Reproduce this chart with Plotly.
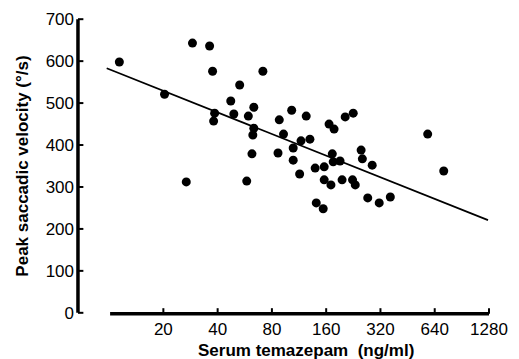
import math
import plotly.graph_objects as go

# Serum temazepam (ng/ml) and peak saccadic velocity (deg/s)
conc = [11.4, 20.3, 29.0, 36.1, 37.5, 38.5, 38.0, 47.3, 49.2, 53.0,
        59.2, 63.5, 63.5, 62.7, 62.0, 71.3, 58.0, 26.8, 87.9, 103,
        124, 92.8, 86.5, 105, 116, 130, 105, 114, 166, 177,
        204, 226, 173, 175, 191, 250, 254, 288, 139, 156,
        585, 718, 156, 170, 196, 224, 232, 272, 315, 363,
        141, 154]
velocity = [598, 521, 643, 636, 576, 476, 457, 505, 474, 543,
            469, 490, 440, 424, 379, 576, 314, 312, 460, 483,
            469, 426, 381, 393, 410, 414, 364, 331, 450, 438,
            467, 476, 379, 360, 362, 388, 367, 352, 345, 348,
            426, 338, 317, 305, 317, 317, 305, 274, 262, 276,
            262, 248]

fit_x = [9.7, 1264]
fit_y = [583, 221]

x_ticks = [20, 40, 80, 160, 320, 640, 1280]
y_ticks = [0, 100, 200, 300, 400, 500, 600, 700]

# axis frame geometry (in data units)
x_range = [6.47, 1382]          # plotted x extent (log axis)
y_range = [-10, 710]
y_axis_x = 6.72                  # where the vertical axis stands
y_tick_end = 7.2                 # inward tick length on the y axis
x_axis_start = 10.13             # detached x axis starts here
x_axis_y = -2
x_tick_top = 11

font = "Liberation Sans, Arial, Helvetica, sans-serif"

fig = go.Figure()

# axis lines and ticks drawn as line traces
fig.add_trace(go.Scatter(x=[y_axis_x, y_axis_x], y=[y_ticks[0], y_ticks[-1]],
                         mode="lines", line=dict(color="black", width=3.5),
                         showlegend=False, hoverinfo="skip"))
ytx, yty = [], []
for v in y_ticks:
    ytx += [y_axis_x, y_tick_end, None]
    yty += [v, v, None]
fig.add_trace(go.Scatter(x=ytx, y=yty, mode="lines",
                         line=dict(color="black", width=2),
                         showlegend=False, hoverinfo="skip"))
fig.add_trace(go.Scatter(x=[x_axis_start, x_ticks[-1]], y=[x_axis_y, x_axis_y],
                         mode="lines", line=dict(color="black", width=3.5),
                         showlegend=False, hoverinfo="skip"))
xtx, xty = [], []
for v in x_ticks:
    xtx += [v, v, None]
    xty += [x_axis_y, x_tick_top, None]
fig.add_trace(go.Scatter(x=xtx, y=xty, mode="lines",
                         line=dict(color="black", width=2),
                         showlegend=False, hoverinfo="skip"))

# regression line and data
fig.add_trace(go.Scatter(x=fit_x, y=fit_y, mode="lines",
                         line=dict(color="black", width=1.7),
                         showlegend=False, hoverinfo="skip"))
fig.add_trace(go.Scatter(x=conc, y=velocity, mode="markers",
                         marker=dict(color="black", size=9),
                         showlegend=False))

fig.update_layout(
    width=519, height=359,
    margin=dict(l=75, r=24, t=15, b=42),
    paper_bgcolor="white", plot_bgcolor="white",
    font=dict(family=font, color="black", size=17),
    xaxis=dict(
        type="log",
        range=[math.log10(x_range[0]), math.log10(x_range[1])],
        tickvals=x_ticks, ticktext=[str(v) for v in x_ticks],
        ticks="", showline=False, showgrid=False, zeroline=False,
        automargin=False, tickfont=dict(size=17),
    ),
    yaxis=dict(
        range=y_range, tickvals=y_ticks,
        ticks="", showline=False, showgrid=False, zeroline=False,
        automargin=False, tickfont=dict(size=17),
        title=dict(text="<b>Peak saccadic velocity (°/s)</b>", font=dict(size=17), standoff=12),
    ),
    annotations=[dict(
        text="<b>Serum temazepam  (ng/ml)</b>", xref="paper", yref="paper",
        x=0.55, y=0, yshift=-33, xanchor="center", yanchor="middle",
        showarrow=False, font=dict(size=17),
    )],
)

fig.write_html("out.html")
